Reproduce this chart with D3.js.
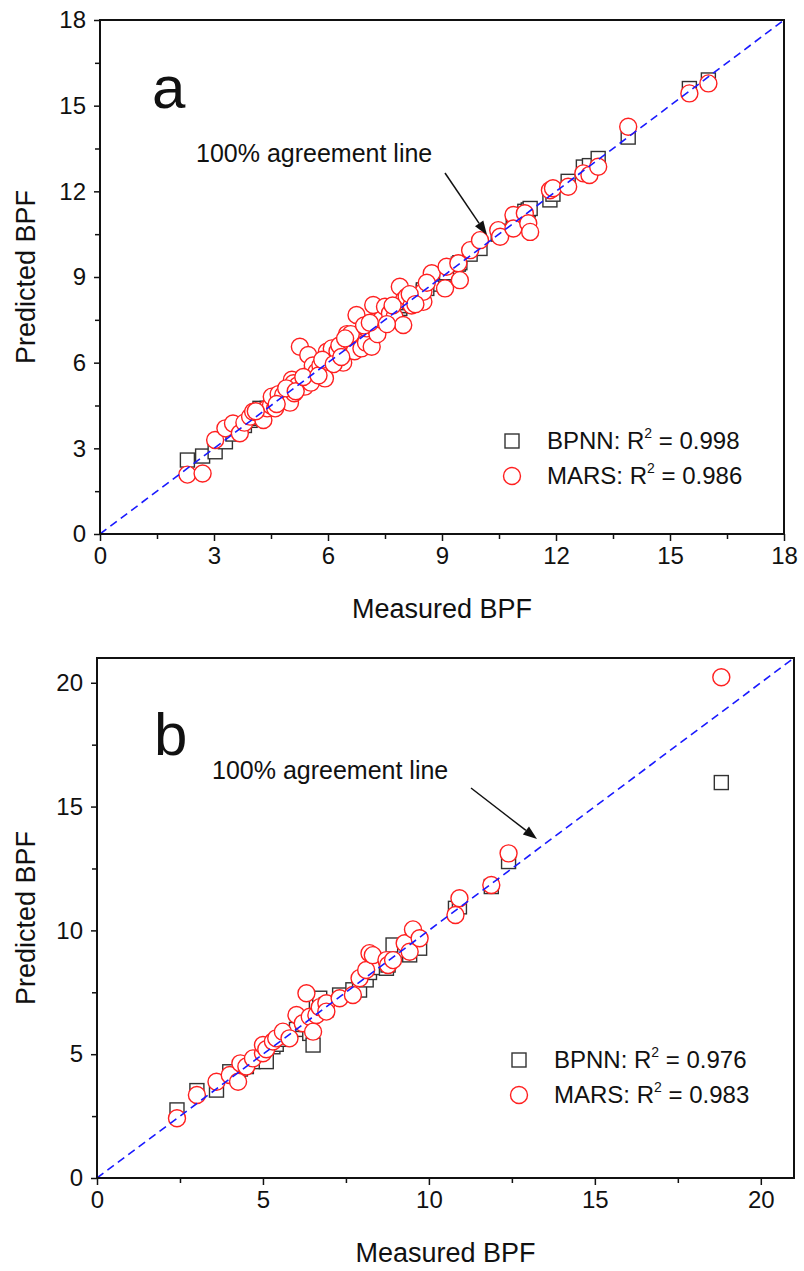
<!DOCTYPE html>
<html><head><meta charset="utf-8">
<script src="https://cdn.jsdelivr.net/npm/d3@7"></script>
<style>
html,body{margin:0;padding:0;background:#fff;}
svg text{font-family:"Liberation Sans",Arial,sans-serif;fill:#111;}
</style></head>
<body>
<svg id="chart" width="804" height="1271"></svg>
<script>
// ---------- Panel a data ----------
const measuredA = [2.3,2.7,3.03,3.3,3.5,3.68,3.8,3.95,4.03,4.21,4.3,4.4,4.5,4.52,4.61,4.7,4.82,5.0,5.05,5.09,5.11,5.2,5.26,5.39,5.48,5.55,5.6,5.7,5.8,5.92,5.97,6.05,6.1,6.18,6.25,6.3,6.4,6.5,6.53,6.6,6.7,6.75,6.88,7.0,7.02,7.15,7.19,7.28,7.3,7.4,7.5,7.63,7.75,7.89,7.98,8.0,8.07,8.2,8.35,8.51,8.51,8.73,9.08,9.12,9.43,9.47,9.74,10.0,10.48,10.53,10.88,10.88,11.18,11.27,11.32,11.84,11.92,12.32,12.72,12.88,13.11,13.9,15.51,16.01,
  4.1,4.65,4.9,5.15,5.35,5.75,5.85,6.15,6.35,6.45,6.95,7.1,7.55,7.7,8.15,8.3,8.6];
const bpnnA = [2.59,2.73,2.88,3.23,3.5,3.65,3.8,3.98,4.05,4.4,4.2,4.4,4.5,4.5,4.6,4.7,4.85,5.0,5.05,5.1,5.1,5.2,5.3,5.35,5.5,5.55,5.6,5.7,5.8,5.9,6.0,6.05,6.1,6.2,6.25,6.3,6.4,6.5,6.5,6.6,6.7,6.75,6.9,7.0,7.0,7.15,7.2,7.3,7.3,7.4,7.5,7.6,7.8,7.9,8.0,8.0,8.1,8.2,8.35,8.5,8.55,8.75,9.1,9.15,9.45,9.5,9.8,10.0,10.5,10.6,10.9,10.85,11.3,11.35,11.4,11.7,11.9,12.35,12.85,12.9,13.15,13.9,15.6,15.9,
  4.1,4.65,4.9,5.15,5.35,5.75,5.85,6.15,6.35,6.45,6.95,7.1,7.55,7.7,8.15,8.3,8.6];
const marsA = [2.08,2.12,3.29,3.7,3.87,3.53,3.9,4.11,4.28,4.2,3.99,4.4,4.5,4.81,4.4,4.9,4.87,4.6,5.4,5.28,4.93,5.2,6.56,5.16,6.27,5.3,5.9,5.68,5.9,5.45,6.38,6.2,6.5,6.09,6.4,6.6,6.0,7.0,6.79,7.0,6.4,7.67,6.5,6.7,7.2,6.56,8.02,7.14,7.0,7.5,7.96,7.73,7.6,8.66,7.32,8.2,8.31,8.0,8.2,8.13,8.48,9.13,8.6,9.36,9.48,8.89,9.94,10.29,10.64,10.41,11.17,10.7,11.23,10.88,10.58,12.04,12.11,12.16,12.63,12.57,12.86,14.26,15.43,15.78,
  4.3,4.55,5.1,5.0,5.5,5.55,6.1,5.95,6.2,6.85,7.3,7.4,7.35,8.0,8.4,8.05,8.8];
const ticksA = [0,3,6,9,12,15,18];
const minorA = [1.5,4.5,7.5,10.5,13.5,16.5];
const domainA = [0,18];

// ---------- Panel b data ----------
const measuredB = [2.41,3.01,3.6,4.0,4.25,4.32,4.5,4.7,5.0,5.0,5.1,5.3,5.4,5.6,5.8,6.01,6.2,6.31,6.41,6.51,6.61,6.71,6.91,6.91,7.31,7.71,7.91,8.11,8.21,8.31,8.72,8.77,8.92,9.27,9.42,9.52,9.72,10.8,10.92,11.88,12.4,18.81];
const bpnnB = [2.75,3.53,3.55,4.29,4.1,4.4,4.5,4.7,4.95,5.1,4.7,5.3,5.4,5.6,5.8,6.0,6.2,6.2,5.84,5.37,7.0,7.26,7.0,6.8,7.39,7.6,7.59,8.0,8.3,8.5,8.47,8.6,9.41,9.2,9.01,9.75,9.28,10.89,10.95,11.77,12.78,15.97];
const marsB = [2.41,3.35,3.89,4.16,3.89,4.63,4.5,4.83,5.04,5.37,5.2,5.51,5.64,5.91,5.64,6.58,6.25,7.46,6.51,5.91,6.58,6.9,7.06,6.72,7.26,7.39,8.07,8.4,9.08,9.0,8.8,8.6,8.8,9.48,9.14,10.04,9.68,10.62,11.3,11.83,13.11,20.22];
const ticksB = [0,5,10,15,20];
const minorB = [2.5,7.5,12.5,17.5];
const domainB = [0,21];

const svg = d3.select("#chart");

function panel(cfg){
  const {x0,x1,y0,y1,domain,ticks,minor,measured,bpnn,mars,letter,r2b,r2m,
         letterPos,notePos,arrow,legPos} = cfg;
  const x = d3.scaleLinear().domain(domain).range([x0,x1]);
  const y = d3.scaleLinear().domain(domain).range([y0,y1]);
  const g = svg.append("g");

  const xAxis = d3.axisBottom(x).tickValues(ticks).tickSize(7).tickPadding(6).tickFormat(d3.format("d"));
  const xMinor = d3.axisBottom(x).tickValues(minor).tickSize(5).tickFormat("");
  const yAxis = d3.axisLeft(y).tickValues(ticks).tickSize(6).tickPadding(8).tickFormat(d3.format("d"));
  const yMinor = d3.axisLeft(y).tickValues(minor).tickSize(5).tickFormat("");
  g.append("g").attr("transform",`translate(0,${y0})`).call(xAxis);
  g.append("g").attr("transform",`translate(0,${y0})`).call(xMinor);
  g.append("g").attr("transform",`translate(${x0},0)`).call(yAxis);
  g.append("g").attr("transform",`translate(${x0},0)`).call(yMinor);
  g.selectAll(".domain").remove();
  g.selectAll(".tick line").attr("stroke","#111").attr("stroke-width",1.5);
  g.selectAll(".tick text").style("font-size","24px").style("font-family","Liberation Sans, Arial, sans-serif").attr("fill","#111");

  const pts = measured.map((m,i)=>({m,b:bpnn[i],r:mars[i]}));
  const s = 14;
  g.append("g").selectAll("rect").data(pts).join("rect")
    .attr("x",d=>x(d.m)-s/2).attr("y",d=>y(d.b)-s/2).attr("width",s).attr("height",s)
    .attr("fill","#fff").attr("stroke","#333").attr("stroke-width",1.4);
  g.append("g").selectAll("circle").data(pts).join("circle")
    .attr("cx",d=>x(d.m)).attr("cy",d=>y(d.r)).attr("r",8.5)
    .attr("fill","#fff").attr("stroke","#ff2020").attr("stroke-width",1.4);

  g.append("line").attr("x1",x(domain[0])).attr("y1",y(domain[0]))
    .attr("x2",x(domain[1])).attr("y2",y(domain[1]))
    .attr("stroke","#1a1aff").attr("stroke-width",1.6).attr("stroke-dasharray","8,5");

  g.append("rect").attr("x",x0).attr("y",y1).attr("width",x1-x0).attr("height",y0-y1)
    .attr("fill","none").attr("stroke","#111").attr("stroke-width",2);

  g.append("text").attr("x",letterPos[0]).attr("y",letterPos[1]).style("font-size","60px").text(letter);
  g.append("text").attr("x",notePos[0]).attr("y",notePos[1]).style("font-size","25px").text("100% agreement line");
  const [ax1,ay1,ax2,ay2] = arrow;
  const ang = Math.atan2(ay2-ay1,ax2-ax1);
  const hl = 14, hw = 5;
  const bx = ax2 - hl*Math.cos(ang), by = ay2 - hl*Math.sin(ang);
  g.append("line").attr("x1",ax1).attr("y1",ay1).attr("x2",bx).attr("y2",by)
    .attr("stroke","#111").attr("stroke-width",1.5);
  g.append("path").attr("d",`M${ax2},${ay2}L${bx+hw*Math.sin(ang)},${by-hw*Math.cos(ang)}L${bx-hw*Math.sin(ang)},${by+hw*Math.cos(ang)}Z`)
    .attr("fill","#111");

  const [lx,ly] = legPos;
  g.append("rect").attr("x",lx-7).attr("y",ly-7).attr("width",14).attr("height",14)
    .attr("fill","none").attr("stroke","#333").attr("stroke-width",1.4);
  g.append("circle").attr("cx",lx).attr("cy",ly+35).attr("r",8.5)
    .attr("fill","none").attr("stroke","#ff2020").attr("stroke-width",1.4);
  function legText(yb,name,val){
    const t = g.append("text").attr("x",lx+35).attr("y",yb).style("font-size","24px");
    t.append("tspan").text(name+": R");
    t.append("tspan").attr("dy",-11).style("font-size","14px").text("2");
    t.append("tspan").attr("dy",11).text(" = "+val);
  }
  legText(ly+8,"BPNN",r2b);
  legText(ly+43,"MARS",r2m);

  g.append("text").attr("x",(x0+x1)/2).attr("y",y0+84).attr("text-anchor","middle")
    .style("font-size","27px").text("Measured BPF");
  g.append("text").attr("transform",`translate(35,${(y0+y1)/2}) rotate(-90)`).attr("text-anchor","middle")
    .style("font-size","27px").text("Predicted BPF");
}

panel({x0:100,x1:784,y0:534,y1:20,domain:domainA,ticks:ticksA,minor:minorA,
  measured:measuredA,bpnn:bpnnA,mars:marsA,letter:"a",r2b:"0.998",r2m:"0.986",
  letterPos:[152,108],notePos:[196,162],arrow:[445,173,487,235],legPos:[512,441]});

panel({x0:97,x1:794,y0:1178,y1:658,domain:domainB,ticks:ticksB,minor:minorB,
  measured:measuredB,bpnn:bpnnB,mars:marsB,letter:"b",r2b:"0.976",r2m:"0.983",
  letterPos:[154,755],notePos:[212,779],arrow:[471,788,537,839],legPos:[519,1060]});
</script>
</body></html>
